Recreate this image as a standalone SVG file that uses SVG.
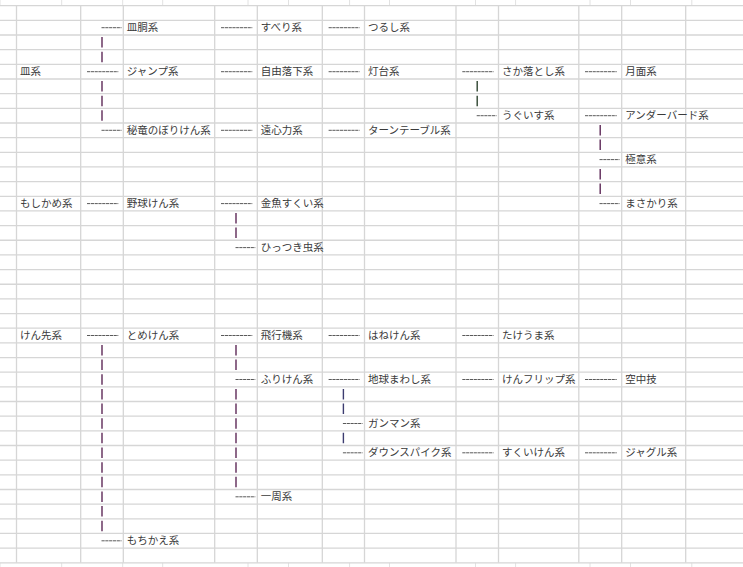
<svg xmlns="http://www.w3.org/2000/svg" width="743" height="567" viewBox="0 0 743 567">
<style>
.g{stroke:#d6d6d6;stroke-width:1.3;fill:none}
.t{stroke:#e2e2e2;stroke-width:1;fill:none}
.l{font-family:"Noto Sans CJK JP","Liberation Sans",sans-serif;font-size:10.5px;fill:#3a3a3a}
.d{stroke:#5a5a5a;stroke-width:1;stroke-dasharray:3.2 0.6;fill:none}
.b{stroke-width:1.4;fill:none}
.p{stroke:#5e2a58}
.gr{stroke:#2f4530}
.bl{stroke:#3c3c70}
</style>
<rect width="743" height="567" fill="#fff"/>
<g id="grid">
<path class="t" d="M0 0V5.7M61.7 0V5.7M122.7 0V5.7M162.7 0V5.7M248 0V5.7M288.5 0V5.7M349.6 0V5.7M389.5 0V5.7M475.5 0V5.7M515.6 0V5.7M590 0V5.7M630.5 0V5.7M691.8 0V5.7M0 562.8V567M61.7 562.8V567M122.7 562.8V567M162.7 562.8V567M248 562.8V567M288.5 562.8V567M349.6 562.8V567M389.5 562.8V567M475.5 562.8V567M515.6 562.8V567M590 562.8V567M630.5 562.8V567M691.8 562.8V567"/>
<path class="g" d="M16.5 5.7V562.8M80.7 5.7V562.8M123.3 5.7V562.8M214.7 5.7V562.8M257.3 5.7V562.8M322.3 5.7V562.8M364.5 5.7V562.8M456 5.7V562.8M498.5 5.7V562.8M578.8 5.7V562.8M621.7 5.7V562.8M685.7 5.7V562.8"/>
<path class="g" d="M0 5.7H743M0 20.36H743M0 35.02H743M0 49.68H743M0 64.34H743M0 79H743M0 93.66H743M0 108.32H743M0 122.98H743M0 137.64H743M0 152.3H743M0 166.96H743M0 181.62H743M0 196.28H743M0 210.94H743M0 225.6H743M0 240.26H743M0 254.92H743M0 269.58H743M0 284.24H743M0 298.9H743M0 313.56H743M0 328.22H743M0 342.88H743M0 357.54H743M0 372.2H743M0 386.86H743M0 401.52H743M0 416.18H743M0 430.84H743M0 445.5H743M0 460.16H743M0 474.82H743M0 489.48H743M0 504.14H743M0 518.8H743M0 533.46H743M0 548.12H743M0 562.78H743"/>
</g>
<g id="connectors">
<path class="d" d="M101.5 27.7H121.5M221 27.7H252.3M328.6 27.7H359.5"/>
<path class="d" d="M87 71.7H118.3M221 71.7H252.3M328.6 71.7H359.5M462.3 71.7H493.5M585 71.7H616.7"/>
<path class="d" d="M476.7 115.7H496.5M585 115.7H616.7"/>
<path class="d" d="M101.5 130.3H121.5M221 130.3H252.3M328.6 130.3H359.5"/>
<path class="d" d="M599.5 159.6H619.5M599.5 203.6H619.5M87 203.6H118.3M221 203.6H252.3"/>
<path class="d" d="M235.5 247.6H255.3"/>
<path class="d" d="M87 335.5H118.3M221 335.5H252.3M328.6 335.5H359.5M462.3 335.5H493.5"/>
<path class="d" d="M235.5 379.5H255.3M328.6 379.5H359.5M462.3 379.5H493.5M585 379.5H616.7"/>
<path class="d" d="M342.9 423.5H362.5M342.9 452.8H362.5M462.3 452.8H493.5M585 452.8H616.7"/>
<path class="d" d="M235.5 496.8H255.3M101.5 540.8H121.5"/>
<path class="b p" d="M102 37V47.5M102 51.7V62.2M102 81V91.5M102 95.7V106.2M102 110.3V120.8"/>
<path class="b gr" d="M477.2 81V91.5M477.2 95.7V106.2"/>
<path class="b p" d="M600.2 125V135.5M600.2 139.6V150.1M600.2 169V179.5M600.2 183.6V194.1"/>
<path class="b p" d="M236 213V223.5M236 227.6V238.1"/>
<path class="b p" d="M102 344.9V355.4M102 359.5V370M102 374.2V384.7M102 388.9V399.4M102 403.5V414M102 418.2V428.7M102 432.8V443.3M102 447.5V458M102 462.2V472.7M102 476.8V487.3M102 491.5V502M102 506.1V516.6M102 520.8V531.3"/>
<path class="b p" d="M236 344.9V355.4M236 359.5V370M236 388.9V399.4M236 403.5V414M236 418.2V428.7M236 432.8V443.3M236 447.5V458M236 462.2V472.7M236 476.8V487.3"/>
<path class="b bl" d="M343.4 388.9V399.4M343.4 403.5V414M343.4 432.8V443.3"/>
</g>
<g id="n-saradou"><text class="l" x="126.8" y="31.3">皿胴系</text></g>
<g id="n-suberi"><text class="l" x="260.8" y="31.3">すべり系</text></g>
<g id="n-tsurushi"><text class="l" x="368" y="31.3">つるし系</text></g>
<g id="n-sara"><text class="l" x="20" y="75.2">皿系</text></g>
<g id="n-jump"><text class="l" x="126.8" y="75.2">ジャンプ系</text></g>
<g id="n-jiyurakka"><text class="l" x="260.8" y="75.2">自由落下系</text></g>
<g id="n-toudai"><text class="l" x="368" y="75.2">灯台系</text></g>
<g id="n-sakaotoshi"><text class="l" x="502" y="75.2">さか落とし系</text></g>
<g id="n-getsumen"><text class="l" x="625.2" y="75.2">月面系</text></g>
<g id="n-uguisu"><text class="l" x="502" y="119.2">うぐいす系</text></g>
<g id="n-underbird"><text class="l" x="625.2" y="119.2">アンダーバード系</text></g>
<g id="n-hiryu"><text class="l" x="126.8" y="133.9">秘竜のぼりけん系</text></g>
<g id="n-enshinryoku"><text class="l" x="260.8" y="133.9">遠心力系</text></g>
<g id="n-turntable"><text class="l" x="368" y="133.9">ターンテーブル系</text></g>
<g id="n-gokui"><text class="l" x="625.2" y="163.2">極意系</text></g>
<g id="n-moshikame"><text class="l" x="20" y="207.2">もしかめ系</text></g>
<g id="n-yakyuken"><text class="l" x="126.8" y="207.2">野球けん系</text></g>
<g id="n-kingyo"><text class="l" x="260.8" y="207.2">金魚すくい系</text></g>
<g id="n-masakari"><text class="l" x="625.2" y="207.2">まさかり系</text></g>
<g id="n-hittsuki"><text class="l" x="260.8" y="251.2">ひっつき虫系</text></g>
<g id="n-kensaki"><text class="l" x="20" y="339.1">けん先系</text></g>
<g id="n-tomeken"><text class="l" x="126.8" y="339.1">とめけん系</text></g>
<g id="n-hikouki"><text class="l" x="260.8" y="339.1">飛行機系</text></g>
<g id="n-haneken"><text class="l" x="368" y="339.1">はねけん系</text></g>
<g id="n-takeuma"><text class="l" x="502" y="339.1">たけうま系</text></g>
<g id="n-furiken"><text class="l" x="260.8" y="383.1">ふりけん系</text></g>
<g id="n-chikyu"><text class="l" x="368" y="383.1">地球まわし系</text></g>
<g id="n-kenflip"><text class="l" x="502" y="383.1">けんフリップ系</text></g>
<g id="n-kuchuu"><text class="l" x="625.2" y="383.1">空中技</text></g>
<g id="n-gunman"><text class="l" x="368" y="427.1">ガンマン系</text></g>
<g id="n-downspike"><text class="l" x="368" y="456.4">ダウンスパイク系</text></g>
<g id="n-sukuiken"><text class="l" x="502" y="456.4">すくいけん系</text></g>
<g id="n-juggle"><text class="l" x="625.2" y="456.4">ジャグル系</text></g>
<g id="n-isshu"><text class="l" x="260.8" y="500.4">一周系</text></g>
<g id="n-mochikae"><text class="l" x="126.8" y="544.4">もちかえ系</text></g>
</svg>
